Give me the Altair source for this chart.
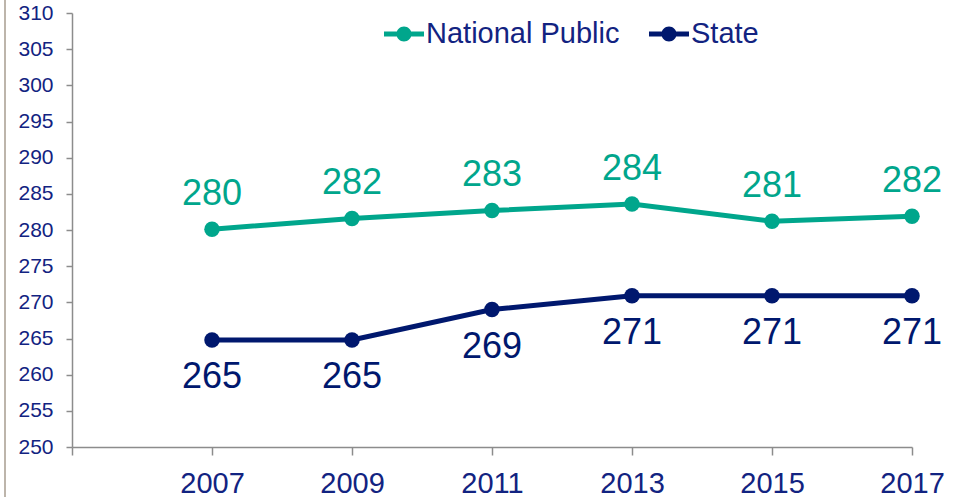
import altair as alt
import pandas as pd

years = [2007, 2009, 2011, 2013, 2015, 2017]
national_values = [280.1, 281.6, 282.7, 283.6, 281.2, 281.9]
national_labels = ["280", "282", "283", "284", "281", "282"]
state_values = [264.8, 264.8, 269.0, 270.9, 270.9, 270.9]
state_labels = ["265", "265", "269", "271", "271", "271"]
series_names = ["National Public", "State"]
x_ticks = [2005, 2007, 2009, 2011, 2013, 2015, 2017]
y_ticks = list(range(250, 311, 5))

TEAL = "#00A68C"
NAVY = "#00186E"
TEXT = "#122381"
AXIS = "#8C8C8C"
FONT = "Liberation Sans"

rows = []
for y, v, l in zip(years, national_values, national_labels):
    rows.append({"year": y, "value": v, "label": l, "series": series_names[0]})
for y, v, l in zip(years, state_values, state_labels):
    rows.append({"year": y, "value": v, "label": l, "series": series_names[1]})
df = pd.DataFrame(rows)

x_enc = alt.X(
    "year:Q",
    scale=alt.Scale(domain=[2005, 2017], nice=False, zero=False),
    axis=alt.Axis(
        values=x_ticks, format="d", title=None, grid=False,
        labelExpr="datum.value == 2005 ? '' : datum.label",
        labelFontSize=29, labelColor=TEXT, labelFont=FONT, labelPadding=14,
        tickSize=8, tickColor=AXIS, tickWidth=1.5, domainColor=AXIS, domainWidth=1.5,
        labelFlush=False, labelOverlap=False,
    ),
)
y_enc = alt.Y(
    "value:Q",
    scale=alt.Scale(domain=[250, 310], nice=False, zero=False),
    axis=alt.Axis(
        values=y_ticks, title=None, grid=False,
        labelFontSize=21, labelColor=TEXT, labelFont=FONT, labelPadding=13,
        tickSize=6, tickColor=AXIS, tickWidth=1.5, domainColor=AXIS, domainWidth=1.5,
        labelFlush=False, labelOverlap=False,
    ),
)

color_scale = alt.Scale(domain=series_names, range=[TEAL, NAVY])

legend_path = (
    "M-1,-0.125 L-0.3,-0.125 L-0.3,0.125 L-1,0.125 Z "
    "M0.3,-0.125 L1,-0.125 L1,0.125 L0.3,0.125 Z "
    "M0.375,0 A0.375,0.375 0 1,1 -0.375,0 A0.375,0.375 0 1,1 0.375,0 Z"
)

base = alt.Chart(df)

nat_line = base.transform_filter(alt.datum.series == series_names[0]).mark_line(
    strokeWidth=5, color=TEAL
).encode(x=x_enc, y=y_enc)

state_line = base.transform_filter(alt.datum.series == series_names[1]).mark_line(
    strokeWidth=5, color=NAVY
).encode(x=x_enc, y=y_enc)

points = base.mark_point(filled=True, size=240, opacity=1).encode(
    x=x_enc, y=y_enc,
    color=alt.Color(
        "series:N", scale=color_scale, sort=series_names,
        legend=alt.Legend(
            title=None, orient="none", direction="horizontal",
            legendX=312, legendY=1, padding=0,
            symbolType=legend_path, symbolSize=1600, symbolStrokeWidth=0,
            symbolOpacity=1,
            labelFontSize=29, labelColor=TEXT, labelFont=FONT,
            labelOffset=2, columnPadding=29, labelLimit=400,
        ),
    ),
)

nat_text = base.transform_filter(alt.datum.series == series_names[0]).mark_text(
    fontSize=36, font=FONT, color=TEAL, dy=-24, baseline="alphabetic", align="center"
).encode(x=x_enc, y=y_enc, text="label:N")

state_text = base.transform_filter(alt.datum.series == series_names[1]).mark_text(
    fontSize=36, font=FONT, color=NAVY, dy=48, baseline="alphabetic", align="center"
).encode(x=x_enc, y=y_enc, text="label:N")

border = alt.Chart(pd.DataFrame({"a": [0]})).mark_rule(
    color="#BDB5AB", strokeWidth=2, clip=False
).encode(x=alt.value(-67), y=alt.value(-13), y2=alt.value(484))

chart = alt.layer(border, nat_line, state_line, points, nat_text, state_text).properties(
    width=840, height=434,
    autosize=alt.AutoSizeParams(type="none"),
    padding={"left": 72, "top": 13, "right": 48, "bottom": 50},
    background="white",
).configure_view(stroke=None)

chart.save("out.html", embed_options={"renderer": "svg", "actions": False})
